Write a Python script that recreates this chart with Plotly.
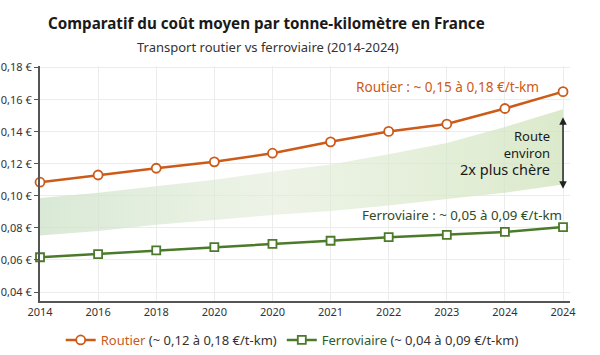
import plotly.graph_objects as go

years = ["2014", "2016", "2018", "2020", "2020", "2021", "2022", "2023", "2024", "2024"]
routier = [0.1085, 0.1130, 0.1172, 0.1212, 0.1266, 0.1337, 0.1402, 0.1448, 0.1545, 0.1650]
ferroviaire = [0.0617, 0.0637, 0.0660, 0.0680, 0.0700, 0.0720, 0.0742, 0.0757, 0.0775, 0.0805]
band_upper = [0.0986, 0.1020, 0.1060, 0.1100, 0.1150, 0.1196, 0.1260, 0.1330, 0.1430, 0.1540]
band_lower = [0.0753, 0.0780, 0.0820, 0.0850, 0.0880, 0.0905, 0.0940, 0.0980, 0.1020, 0.1070]
y_ticks = [0.04, 0.06, 0.08, 0.10, 0.12, 0.14, 0.16, 0.18]
y_ticklabels = ["0,04 €", "0,06 €", "0,08 €", "0,10 €", "0,12 €", "0,14 €", "0,16 €", "0,18 €"]

ORANGE = "#cc5a18"
GREEN = "#4b7a2a"
FONT = "Noto Sans"

# plot area in pixels: x 40..570, y 66..301
def py(ypix):
    return (301 - ypix) / 235

xs = list(range(len(years)))

fig = go.Figure()
fig.add_trace(go.Scatter(x=xs, y=band_lower, mode="lines", line=dict(width=0),
                         showlegend=False, hoverinfo="skip"))
fig.add_trace(go.Scatter(x=xs, y=band_upper, mode="lines", line=dict(width=0),
                         fill="tonexty",
                         fillgradient=dict(type="horizontal",
                                           colorscale=[[0, "rgba(205,225,200,0.75)"],
                                                       [0.45, "rgba(225,236,215,0.6)"],
                                                       [1, "rgba(210,228,190,0.8)"]]),
                         showlegend=False, hoverinfo="skip"))
fig.add_trace(go.Scatter(
    x=xs, y=routier, mode="lines+markers",
    name=f"<span style='color:{ORANGE}'>Routier</span> (~ 0,12 à 0,18 €/t-km)",
    line=dict(color=ORANGE, width=2.5),
    marker=dict(symbol="circle", size=9, color="white", line=dict(color=ORANGE, width=1.8)),
    cliponaxis=False))
fig.add_trace(go.Scatter(
    x=xs, y=ferroviaire, mode="lines+markers",
    name=f"<span style='color:#2f5a2a'>Ferroviaire</span> (~ 0,04 à 0,09 €/t-km)",
    line=dict(color=GREEN, width=2.5),
    marker=dict(symbol="square", size=8, color="white", line=dict(color=GREEN, width=1.8)),
    cliponaxis=False))

annotations = [
    dict(text="<b>Comparatif du coût moyen par tonne-kilomètre en France</b>",
         xref="paper", yref="paper", x=0.428, y=py(23), xanchor="center", yanchor="middle",
         showarrow=False, font=dict(size=15.2, color="#1a1a1a", family=FONT)),
    dict(text="Transport routier vs ferroviaire (2014-2024)",
         xref="paper", yref="paper", x=0.43, y=py(47), xanchor="center", yanchor="middle",
         showarrow=False, font=dict(size=13, color="#333333", family=FONT)),
    dict(text="Routier : ~ 0,15 à 0,18 €/t-km", xref="x", yref="y", x=9, y=0.1682,
         xanchor="right", yanchor="middle", xshift=-22, showarrow=False,
         font=dict(size=13.6, color=ORANGE, family=FONT)),
    dict(text="Ferroviaire : ~ 0,05 à 0,09 €/t-km", xref="x", yref="y", x=9, y=0.0879,
         xanchor="right", yanchor="middle", xshift=1, showarrow=False,
         font=dict(size=13.3, color="#2f4a25", family=FONT)),
    dict(text="Route<br>environ<br><span style='font-size:14.5px'>2x plus chère</span>",
         xref="x", yref="y", x=9, y=0.1267, xanchor="right", yanchor="middle", align="right",
         xshift=-11, showarrow=False, font=dict(size=13, color="#1a1a1a", family=FONT)),
    dict(text="", xref="x", yref="y", x=9, y=0.1045, ax=9, ay=0.1500, axref="x", ayref="y",
         showarrow=True, arrowhead=2, arrowside="end+start", arrowsize=1, arrowwidth=1.5,
         arrowcolor="#222222"),
]

fig.update_layout(
    width=600, height=355,
    margin=dict(l=40, r=30, t=66, b=54, autoexpand=False),
    paper_bgcolor="white", plot_bgcolor="white",
    font=dict(family=FONT, size=11, color="#333333"),
    showlegend=True,
    legend=dict(orientation="h", xref="container", yref="container", x=0.487, y=1 - 340 / 355,
                xanchor="center", yanchor="middle", traceorder="normal",
                font=dict(size=13, color="#333333", family=FONT),
                itemwidth=30, tracegroupgap=0, bgcolor="rgba(0,0,0,0)"),
    annotations=annotations,
    xaxis=dict(range=[0, 9.12], tickvals=xs, ticktext=years, showgrid=True, gridcolor="#ececec",
               showline=True, linecolor="#555555", linewidth=2, zeroline=False, automargin=False,
               ticks="", tickfont=dict(size=11, color="#333333")),
    yaxis=dict(range=[0.0344, 0.181], tickvals=y_ticks, ticktext=y_ticklabels, showgrid=True,
               gridcolor="#ececec", showline=True, linecolor="#555555", linewidth=2, zeroline=False,
               automargin=False, ticks="outside", ticklen=4, tickcolor="#555555",
               tickfont=dict(size=11, color="#333333")),
)

fig.write_html("out.html", config={"displayModeBar": False},
               post_script="document.body.style.margin='0';document.body.style.overflow='hidden';")
